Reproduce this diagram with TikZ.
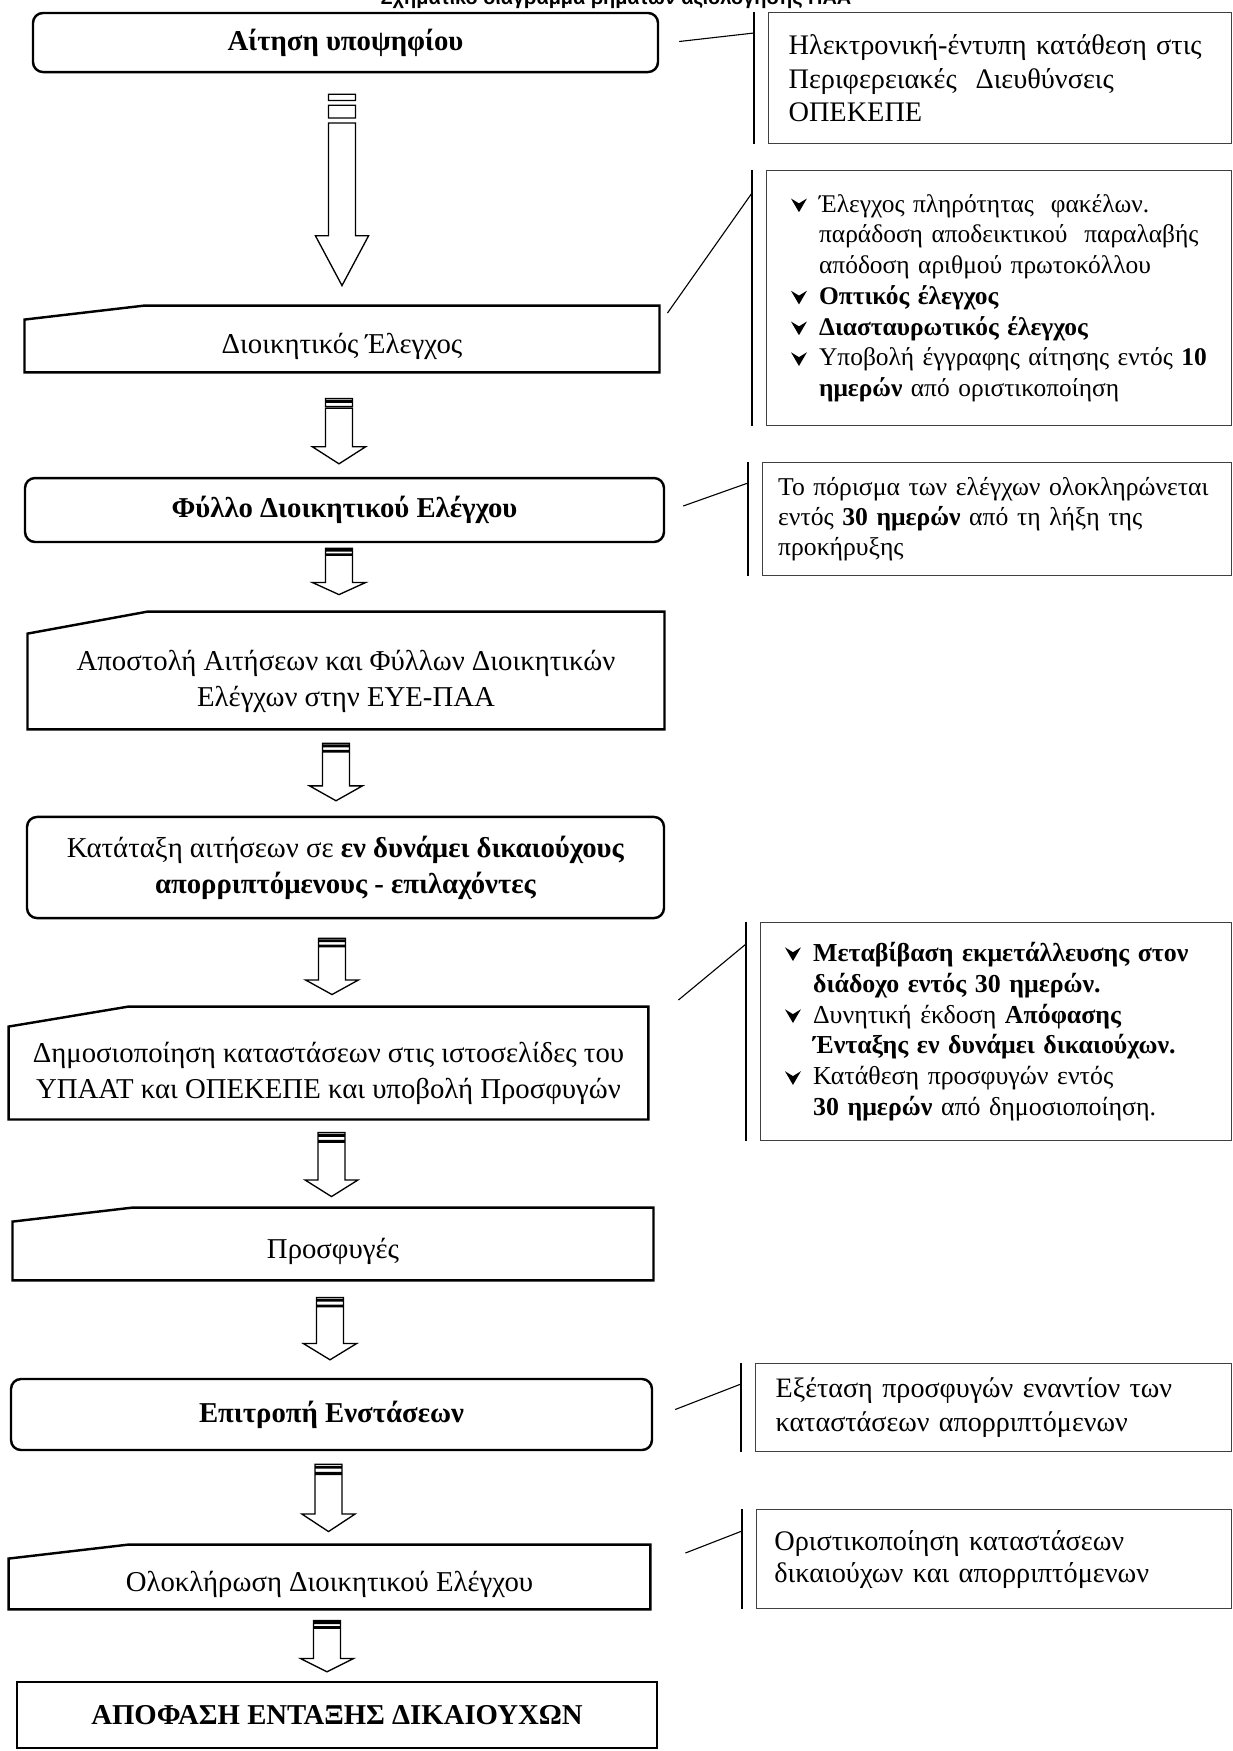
\documentclass[tikz,border=0pt]{standalone}
\usepackage{fontspec}
\setmainfont{Liberation Serif}
\newfontfamily\headfont{Liberation Sans}
\usetikzlibrary{calc}
\newcommand{\mainsz}{\fontsize{13}{16.2}\selectfont}
\newcommand{\vmark}{\tikz[baseline=0pt,x=1pt,y=1pt]\fill (0,6.2) -- (3.6,4) -- (7.2,6.2) -- (3.6,0) -- cycle;}
\newcommand{\itm}{\makebox[12.7pt][l]{\vmark}}
\newcommand{\cnt}{\hspace*{12.7pt}}
\tikzset{
  rbox/.style  = {draw, rounded corners=4.5pt, line width=1.1pt,
                  inner sep=0pt, align=center, font=\mainsz},
  sbox/.style  = {rbox, sharp corners},
  manin/.style = {draw=none, inner sep=0pt, align=center, font=\mainsz,
                  append after command={\pgfextra{
                    \draw[line width=1.1pt] (\tikzlastnode.north west)
                      -- ([shift={(120,-#1)}]\tikzlastnode.north west)
                      -- ([shift={(0,-#1)}]\tikzlastnode.north east)
                      -- (\tikzlastnode.south east) -- (\tikzlastnode.south west) -- cycle;}}},
  note/.style  = {draw=black!75, line width=0.6pt, anchor=north west,
                  inner xsep=2pt, inner ysep=0pt, align=left,
                  append after command={\pgfextra{
                    \draw[line width=0.6pt] ([shift={(-14,0)}]\tikzlastnode.north west)
                      -- ([shift={(-14,0)}]\tikzlastnode.south west);}}},
  lmargin/.style = {execute at begin node={\leftskip=#1}},
  lead/.style  = {line width=0.5pt},
  flow/.style  = {line width=0.6pt, to path={
    let \p1=(\tikztostart), \p2=(\tikztotarget), \n1={\y1-\y2} in
    (\x1-6.1pt,\y1) rectangle (\x1+6.1pt,\y1-0.033*\n1)
    (\x1-6.1pt,\y1-0.057*\n1) rectangle (\x1+6.1pt,\y1-0.124*\n1)
    (\x1-6.1pt,\y1-0.15*\n1) -- (\x1-6.1pt,\y2+0.26*\n1) -- (\x1-12pt,\y2+0.26*\n1)
    -- (\x1,\y2) -- (\x1+12pt,\y2+0.26*\n1) -- (\x1+6.1pt,\y2+0.26*\n1)
    -- (\x1+6.1pt,\y1-0.15*\n1) -- cycle}}
}

\begin{document}
\begin{tikzpicture}[x=0.452pt, y=-0.452pt]
  \useasboundingbox (0,0) rectangle (1233,1751);

  \node[font=\headfont\bfseries\fontsize{9}{10}\selectfont, anchor=base] (title) at (616,4)
    {Σχηματικό διάγραμμα βημάτων αξιολόγησης ΠΑΑ};

  % main flow
  \node[rbox, minimum width=282.5pt, minimum height=26.7pt] (aitisi) at (345.5,42.5)
    {\textbf{Αίτηση υποψηφίου}};
  \node[manin=14, minimum width=286.6pt, minimum height=23.5pt] (dioik) at (342,346)
    {Διοικητικός Έλεγχος};
  \node[rbox, minimum width=288.8pt, minimum height=28.9pt] (fyllo) at (344.5,510)
    {\textbf{Φύλλο Διοικητικού Ελέγχου}};
  \node[manin=22, minimum width=287.5pt, minimum height=42.9pt] (apost) at (346,681.5)
    {Αποστολή Αιτήσεων και Φύλλων Διοικητικών\\Ελέγχων στην ΕΥΕ-ΠΑΑ};
  \node[rbox, minimum width=287.9pt, minimum height=45.7pt] (katat) at (345.5,867.5)
    {Κατάταξη αιτήσεων σε \textbf{εν δυνάμει δικαιούχους}\\\textbf{απορριπτόμενους - επιλαχόντες}};
  \node[manin=20, minimum width=288.8pt, minimum height=41.6pt] (dimos) at (328.5,1073)
    {Δημοσιοποίηση καταστάσεων στις ιστοσελίδες του\\ΥΠΑΑΤ και ΟΠΕΚΕΠΕ και υποβολή Προσφυγών};
  \node[manin=14, minimum width=289.3pt, minimum height=26.2pt] (prosf) at (333,1251)
    {Προσφυγές};
  \node[rbox, minimum width=289.7pt, minimum height=32.1pt] (epitr) at (331.5,1414.5)
    {\textbf{Επιτροπή Ενστάσεων}};
  \node[manin=14, minimum width=289.7pt, minimum height=22.6pt] (olokl) at (329.5,1584)
    {Ολοκλήρωση Διοικητικού Ελέγχου};
  \node[sbox, minimum width=289.3pt, minimum height=29.8pt] (apof) at (337,1715)
    {\textbf{ΑΠΟΦΑΣΗ ΕΝΤΑΞΗΣ ΔΙΚΑΙΟΥΧΩΝ}};

  \draw[flow] ([shift={(-3.5,21)}]aitisi.south) to ([shift={(0,-34)}]dioik.north);
  \draw[flow] ([shift={(-3,26)}]dioik.south) to ([shift={(0,-13)}]fyllo.north);
  \draw[flow] ([shift={(-5.5,5)}]fyllo.south) to ([shift={(0,-39)}]apost.north);
  \draw[flow] ([shift={(-10,14)}]apost.south) to ([shift={(0,-15)}]katat.north);
  \draw[flow] ([shift={(-13.5,19)}]katat.south) to ([shift={(0,-32)}]dimos.north);
  \draw[flow] ([shift={(3,13)}]dimos.south) to ([shift={(0,-25)}]prosf.north);
  \draw[flow] ([shift={(-3,17)}]prosf.south) to ([shift={(0,-18)}]epitr.north);
  \draw[flow] ([shift={(-3,13)}]epitr.south) to ([shift={(0,-27)}]olokl.north);
  \draw[flow] ([shift={(-2.5,11)}]olokl.south) to ([shift={(0,-9)}]apof.north);

  % notes
  \node[note, minimum width=209.3pt, minimum height=59.2pt, text width=205.3pt, lmargin=7pt,
        font=\fontsize{12.8}{15.1}\selectfont] (katathesi) at (768,12)
    {Ηλεκτρονική-έντυπη κατάθεση στις\\Περιφερειακές\ \ Διευθύνσεις\\ΟΠΕΚΕΠΕ};
  \node[note, minimum width=210.2pt, minimum height=115.3pt, text width=206.2pt, lmargin=9pt,
        font=\fontsize{11.5}{13.9}\selectfont] (elegxoi) at (766,170)
    {\itm Έλεγχος πληρότητας\ \ φακέλων.\\
     \cnt παράδοση αποδεικτικού\ \ παραλαβής\\
     \cnt απόδοση αριθμού πρωτοκόλλου\\
     \itm\textbf{Οπτικός έλεγχος}\\
     \itm\textbf{Διασταυρωτικός έλεγχος}\\
     \itm Υποβολή έγγραφης αίτησης εντός \textbf{10}\\
     \cnt\textbf{ημερών} από οριστικοποίηση};
  \node[note, minimum width=212pt, minimum height=51.1pt, text width=208pt, lmargin=5pt,
        font=\fontsize{11.6}{13.6}\selectfont] (porisma) at (762,462)
    {Το πόρισμα των ελέγχων ολοκληρώνεται\\εντός \textbf{30 ημερών} από τη λήξη της\\προκήρυξης};
  \node[note, minimum width=212.9pt, minimum height=98.5pt, text width=208.9pt, lmargin=9pt,
        font=\fontsize{11.7}{14}\selectfont] (metab) at (760,922)
    {\itm\textbf{Μεταβίβαση εκμετάλλευσης στον}\\
     \cnt\textbf{διάδοχο εντός 30 ημερών.}\\
     \itm Δυνητική έκδοση \textbf{Απόφασης}\\
     \cnt\textbf{Ένταξης εν δυνάμει δικαιούχων.}\\
     \itm Κατάθεση προσφυγών εντός\\
     \cnt\textbf{30 ημερών} από δημοσιοποίηση.};
  \node[note, minimum width=215.2pt, minimum height=39.8pt, text width=211.2pt, lmargin=7pt,
        font=\fontsize{12.7}{15.4}\selectfont] (exetasi) at (755,1363)
    {Εξέταση προσφυγών εναντίον των\\καταστάσεων απορριπτόμενων};
  \node[note, minimum width=214.7pt, minimum height=44.7pt, text width=210.7pt, lmargin=6pt,
        font=\fontsize{12.8}{14.5}\selectfont] (oristik) at (756,1509)
    {Οριστικοποίηση καταστάσεων\\δικαιούχων και απορριπτόμενων};

  \draw[lead] ([shift={(20,-1)}]aitisi.east) -- ([shift={(-14,21)}]katathesi.north west);
  \draw[lead] ([shift={(8,-33)}]dioik.east) -- ([shift={(-14,23)}]elegxoi.north west);
  \draw[lead] ([shift={(18,-4)}]fyllo.east) -- ([shift={(-14,21)}]porisma.north west);
  \draw[lead] ([shift={(30,-73)}]dimos.east) -- ([shift={(-14,22)}]metab.north west);
  \draw[lead] ([shift={(22,-5)}]epitr.east) -- ([shift={(-14,21)}]exetasi.north west);
  \draw[lead] ([shift={(35,-31)}]olokl.east) -- ([shift={(-14,22)}]oristik.north west);
\end{tikzpicture}
\end{document}
